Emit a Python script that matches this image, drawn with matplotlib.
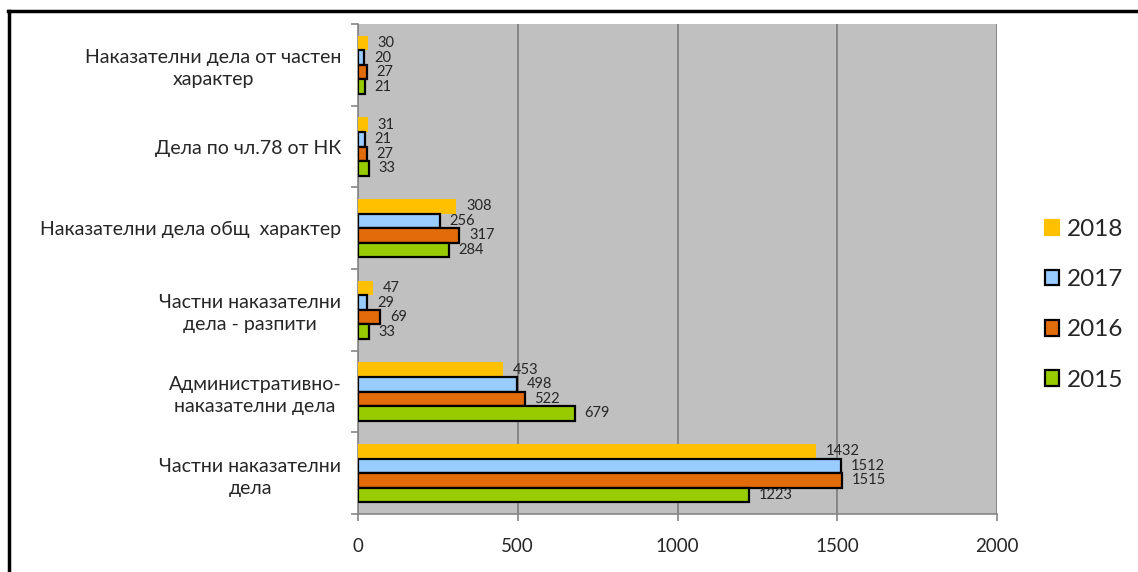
"""Grouped horizontal bar chart: case counts by type, 2015-2018."""

import matplotlib

matplotlib.use("Agg")
import matplotlib.pyplot as plt
from matplotlib.lines import Line2D
from matplotlib.patches import Patch
import numpy as np

# ---- data (top category first, as drawn) ------------------------------------------
categories = [
    "Наказателни дела от частен\nхарактер",
    "Дела по чл.78 от НК",
    "Наказателни дела общ  характер",
    "Частни наказателни\nдела - разпити",
    "Административно-\nнаказателни дела",
    "Частни наказателни\nдела",
]
years = ["2018", "2017", "2016", "2015"]
v2018 = [30, 31, 308, 47, 453, 1432]
v2017 = [20, 21, 256, 29, 498, 1512]
v2016 = [27, 27, 317, 69, 522, 1515]
v2015 = [21, 33, 284, 33, 679, 1223]
x_ticks = [0, 500, 1000, 1500, 2000]

# ---- style -------------------------------------------------------------------------
YELLOW = "#FFC000"
BLUE = "#99CCFF"
ORANGE = "#E26B0A"
GREEN = "#99CC00"
PLOT_BG = "#C0C0C0"
GRID = "#868686"
INK = "#262626"

plt.rcParams["font.family"] = ["Lato", "DejaVu Sans"]

fig = plt.figure(figsize=(11.38, 5.72), dpi=100)
ax = fig.add_axes([0.3146, 0.1014, 0.5615, 0.8566])
ax.set_facecolor(PLOT_BG)

series = [v2018, v2017, v2016, v2015]
colors = [YELLOW, BLUE, ORANGE, GREEN]
edges = ["none", "black", "black", "black"]
n = len(categories)
ypos = np.arange(n)[::-1].astype(float)  # top category at the top
h = 0.178
offsets = [1.5 * h, 0.5 * h, -0.5 * h, -1.5 * h]

for vals, col, ec, off in zip(series, colors, edges, offsets):
    yy = ypos + off
    ax.barh(yy, vals, height=h, color=col, edgecolor=ec, linewidth=1.6, zorder=3)
    for y, v in zip(yy, vals):
        ax.annotate(str(v), xy=(v, y), xytext=(7, 0), textcoords="offset points",
                    ha="left", va="center", fontsize=10.5, color=INK, zorder=4)

ax.set_xlim(0, 2000)
ax.set_ylim(-0.5, n - 0.5)
ax.set_xticks(x_ticks)
ax.set_xticklabels([str(t) for t in x_ticks], fontsize=13.5, color=INK)
ax.set_yticks(ypos)
ax.set_yticklabels(categories, fontsize=14, color=INK, multialignment="center",
                   linespacing=1.35)
ax.set_yticks(np.arange(n + 1) - 0.5, minor=True)
ax.tick_params(axis="y", which="major", length=0, pad=12)
ax.tick_params(axis="y", which="minor", length=5, color=GRID, width=1.2)
ax.tick_params(axis="x", length=5, color=GRID, width=1.2, pad=12)

ax.grid(True, axis="x", color=GRID, linewidth=1.4, zorder=0)
ax.set_axisbelow(True)
for side in ("top", "right"):
    ax.spines[side].set_visible(False)
for side in ("left", "bottom"):
    ax.spines[side].set_color(GRID)
    ax.spines[side].set_linewidth(1.2)

handles = [Patch(facecolor=c, edgecolor=("black" if e != "none" else c), linewidth=1.6)
           for c, e in zip(colors, edges)]
fig.legend(handles, years, loc="center left", bbox_to_anchor=(0.918, 0.467),
           frameon=False, fontsize=17.5, handlelength=0.6, handleheight=0.6,
           handletextpad=0.3, labelspacing=1.2, labelcolor=INK,
           borderpad=0, borderaxespad=0)

# outer frame: top and left edges only
fig.add_artist(Line2D([0.007, 1.0], [0.981, 0.981], color="black", linewidth=2.5,
                      transform=fig.transFigure))
fig.add_artist(Line2D([0.008, 0.008], [0.0, 0.981], color="black", linewidth=2.5,
                      transform=fig.transFigure))

fig.savefig("out.png", dpi=100, facecolor="white")
